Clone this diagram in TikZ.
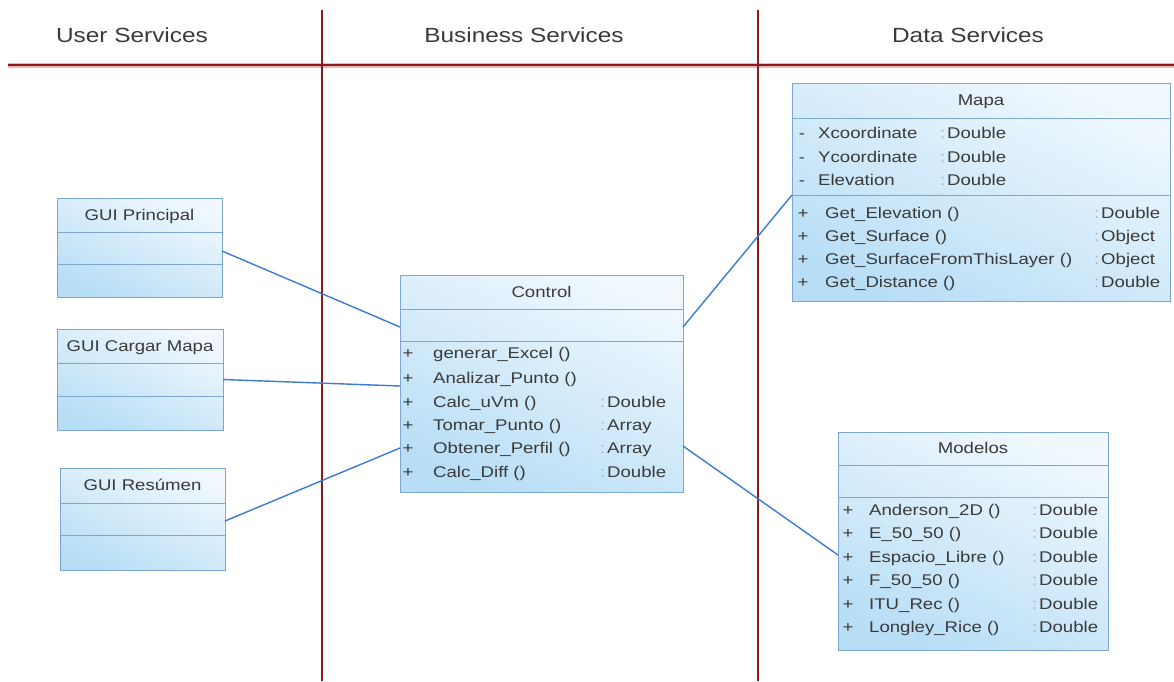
\documentclass[tikz,border=0pt]{standalone}
\usepackage{fontspec}
\setmainfont{Liberation Sans}
\newfontfamily\boxfont{Liberation Sans}[FakeStretch=1.2]
\newfontfamily\headfont{Liberation Sans}[FakeStretch=1.19]
\definecolor{lanered}{HTML}{8B1A1A}
\definecolor{lanepink}{HTML}{E9B8B8}
\definecolor{boxline}{HTML}{7BA7D1}
\definecolor{boxtop}{HTML}{F0F8FE}
\definecolor{boxbot}{HTML}{B8DEF6}
\definecolor{connblue}{HTML}{3C7AD6}
\definecolor{txtgray}{HTML}{3A3A3A}
\definecolor{colgray}{HTML}{B0B0B0}
\begin{document}
\begin{tikzpicture}[x=1pt,y=-1pt,
  lane/.style={draw=lanered,line width=2.8pt},
  lanehalo/.style={draw=lanepink,line width=5pt},
  umlbox/.style={rectangle,draw=boxline,line width=1pt,top color=boxtop,bottom color=boxbot,shading angle=-25,anchor=north west,inner sep=0pt,outer sep=0pt},
  sepline/.style={draw=boxline,line width=1pt},
  conn/.style={draw=connblue,line width=1.4pt},
  head/.style={font=\headfont\fontsize{20.5}{24}\selectfont,text=txtgray,anchor=base,inner sep=0pt},
  btxt/.style={font=\boxfont\fontsize{15.5}{18}\selectfont,text=txtgray,inner sep=0pt},
  bl/.style={btxt,anchor=base west},
  bc/.style={btxt,anchor=base},
  colon/.style={btxt,anchor=base west,text=colgray}
]
\useasboundingbox[fill=white] (0,0) rectangle (1174,681);

% swimlane lines
\draw[lanehalo] (8,65) -- (1174,65);
\draw[lane] (8,65) -- (1174,65);
\draw[lane] (322,10) -- (322,681);
\draw[lane] (758,10) -- (758,681);

% headers
\node[head] (hUser) at (132,42.5) {User Services};
\node[head] (hBus) at (524,42.5) {Business Services};
\node[head] (hData) at (968,42.5) {Data Services};

% boxes
\node[umlbox,minimum width=165pt,minimum height=99pt] (gp) at (57,198) {};
\node[umlbox,minimum width=166pt,minimum height=101pt] (gcm) at (57,329) {};
\node[umlbox,minimum width=165pt,minimum height=102pt] (gr) at (60,468) {};
\node[umlbox,minimum width=283pt,minimum height=217pt] (ctl) at (400,275) {};
\node[umlbox,minimum width=378pt,minimum height=218pt] (mapa) at (792,83) {};
\node[umlbox,minimum width=270pt,minimum height=218pt] (mod) at (838,432) {};

% connectors
\draw[conn] ([yshift=-3.5pt]gp.east) -- ([yshift=56.5pt]ctl.west);
\draw[conn] (gcm.east) -- ([yshift=-2.5pt]ctl.west);
\draw[conn] ([yshift=-2pt]gr.east) -- ([yshift=-64.5pt]ctl.west);
\draw[conn] ([yshift=56.5pt]ctl.east) -- ([yshift=-3pt]mapa.west);
\draw[conn] ([yshift=-62.5pt]ctl.east) -- ([yshift=-14pt]mod.west);

% separators
\draw[sepline] ([yshift=-34pt]gp.north west) -- ([yshift=-34pt]gp.north east);
\draw[sepline] ([yshift=-66pt]gp.north west) -- ([yshift=-66pt]gp.north east);
\draw[sepline] ([yshift=-34pt]gcm.north west) -- ([yshift=-34pt]gcm.north east);
\draw[sepline] ([yshift=-67pt]gcm.north west) -- ([yshift=-67pt]gcm.north east);
\draw[sepline] ([yshift=-35pt]gr.north west) -- ([yshift=-35pt]gr.north east);
\draw[sepline] ([yshift=-67pt]gr.north west) -- ([yshift=-67pt]gr.north east);
\draw[sepline] ([yshift=-34pt]ctl.north west) -- ([yshift=-34pt]ctl.north east);
\draw[sepline] ([yshift=-66pt]ctl.north west) -- ([yshift=-66pt]ctl.north east);
\draw[sepline] ([yshift=-35pt]mapa.north west) -- ([yshift=-35pt]mapa.north east);
\draw[sepline] ([yshift=-112pt]mapa.north west) -- ([yshift=-112pt]mapa.north east);
\draw[sepline] ([yshift=-33pt]mod.north west) -- ([yshift=-33pt]mod.north east);
\draw[sepline] ([yshift=-65pt]mod.north west) -- ([yshift=-65pt]mod.north east);

% titles
\node[bc] (gpT) at (139.5,220.5) {GUI Principal};
\node[bc] (gcmT) at (140,351.5) {GUI Cargar Mapa};
\node[bc] (grT) at (142.5,490.5) {GUI Resúmen};
\node[bc] (ctlT) at (541.5,297.5) {Control};
\node[bc] (mapaT) at (981,105.5) {Mapa};
\node[bc] (modT) at (973,453.5) {Modelos};

% Control operations
\foreach \i/\y/\n/\t in {1/358.5/generar\_Excel ()/,2/383.5/Analizar\_Punto ()/,3/407.5/Calc\_uVm ()/Double,4/430.5/Tomar\_Punto ()/Array,5/453.5/Obtener\_Perfil ()/Array,6/477.5/Calc\_Diff ()/Double}{
  \node[bc] (ctlP\i) at (408,\y) {+};
  \node[bl] (ctlN\i) at (433,\y) {\n};
  \ifx\t\empty\else
    \node[colon] (ctlC\i) at (600,\y) {:};
    \node[bl] (ctlT\i) at (607,\y) {\t};
  \fi
}

% Mapa attributes
\foreach \i/\y/\n in {1/138.5/Xcoordinate,2/162.5/Ycoordinate,3/185.5/Elevation}{
  \node[bc] (mapaM\i) at (802,\y) {-};
  \node[bl] (mapaA\i) at (818,\y) {\n};
  \node[colon] (mapaC\i) at (940,\y) {:};
  \node[bl] (mapaT\i) at (947,\y) {Double};
}
% Mapa operations
\foreach \i/\y/\n/\t in {1/218.5/Get\_Elevation ()/Double,2/241.5/Get\_Surface ()/Object,3/264.5/Get\_SurfaceFromThisLayer ()/Object,4/287.5/Get\_Distance ()/Double}{
  \node[bc] (mapaP\i) at (803,\y) {+};
  \node[bl] (mapaN\i) at (825,\y) {\n};
  \node[colon] (mapaOC\i) at (1094,\y) {:};
  \node[bl] (mapaOT\i) at (1101,\y) {\t};
}

% Modelos operations
\foreach \i/\y/\n in {1/515.5/Anderson\_2D (),2/538.5/E\_50\_50 (),3/562.5/Espacio\_Libre (),4/585.5/F\_50\_50 (),5/609.5/ITU\_Rec (),6/632.5/Longley\_Rice ()}{
  \node[bc] (modP\i) at (848,\y) {+};
  \node[bl] (modN\i) at (869,\y) {\n};
  \node[colon] (modC\i) at (1032,\y) {:};
  \node[bl] (modT\i) at (1039,\y) {Double};
}
\end{tikzpicture}
\end{document}
